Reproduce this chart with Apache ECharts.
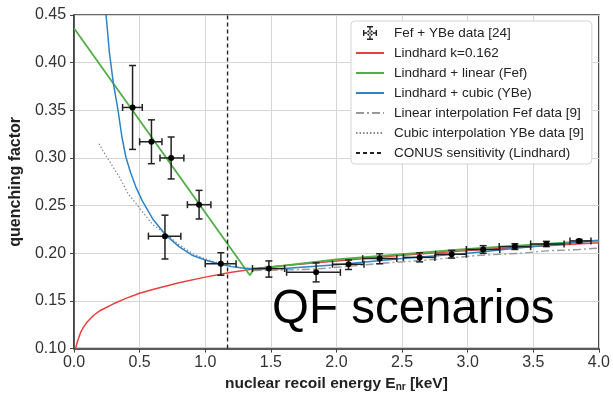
<!DOCTYPE html>
<html><head><meta charset="utf-8">
<script src="https://cdn.jsdelivr.net/npm/echarts@6/dist/echarts.min.js"></script>
<style>html,body{margin:0;padding:0;background:#fff}#c{width:613px;height:397px}</style>
</head><body><div id="c"></div>
<script>
// ---- data ----
const dataE    = [0.446,0.59,0.74,0.953,0.693,1.119,1.485,1.845,2.092,2.329,2.634,2.878,3.118,3.36,3.60,3.85];
const dataQF   = [0.353,0.317,0.300,0.251,0.218,0.189,0.184,0.180,0.1885,0.1944,0.1957,0.199,0.204,0.207,0.2098,0.213];
const dataELo  = [0.37,0.50,0.655,0.864,0.567,1.0,1.36,1.62,1.97,2.2,2.51,2.755,2.99,3.24,3.48,3.78];
const dataEHi  = [0.52,0.67,0.837,1.043,0.814,1.235,1.605,2.03,2.21,2.46,2.75,2.99,3.245,3.48,3.735,3.94];
const dataQFLo = [0.309,0.294,0.278,0.236,0.194,0.177,0.175,0.170,0.183,0.189,0.191,0.195,0.200,0.204,0.207,0.211];
const dataQFHi = [0.397,0.340,0.322,0.266,0.240,0.2006,0.192,0.190,0.193,0.1995,0.2005,0.203,0.208,0.210,0.2125,0.2145];

const lindE  = [0.006,0.012,0.02,0.03,0.05,0.07,0.1,0.15,0.2,0.3,0.4,0.5,0.6,0.8,1.0,1.2,1.5,2.0,2.5,3.0,3.5,4.0];
const lindQF = [0.096,0.100,0.1045,0.109,0.117,0.122,0.128,0.135,0.140,0.147,0.153,0.158,0.162,0.169,0.175,0.180,0.186,0.192,0.198,0.203,0.207,0.211];

const linE  = [0,1.34,1.37,1.5,2.0,2.5,3.0,3.5,4.0];
const linQF = [0.436,0.177,0.1835,0.1855,0.1935,0.199,0.2045,0.209,0.2135];

const cubE  = [0.244,0.27,0.3,0.333,0.365,0.395,0.43,0.47,0.52,0.6,0.7,0.8,0.9,1.0,1.1,1.2,1.3,1.4,1.6,2.0,2.5,3.0,3.5,4.0];
const cubQF = [0.45,0.41,0.378,0.352,0.322,0.301,0.285,0.270,0.255,0.236,0.219,0.207,0.198,0.193,0.189,0.186,0.1843,0.1835,0.184,0.188,0.1945,0.200,0.207,0.2135];

const linIntE  = [1.37,1.6,1.85,2.1,2.35,2.65,2.9,3.1,3.4,3.6,3.85,4.0];
const linIntQF = [0.182,0.1825,0.1835,0.1865,0.1895,0.1925,0.1955,0.198,0.200,0.2025,0.204,0.2055];

const cubIntE  = [0.19,0.22,0.3,0.35,0.41,0.47,0.53,0.6,0.7,0.8,0.9,1.0,1.1,1.2,1.3,1.35];
const cubIntQF = [0.315,0.3075,0.29,0.279,0.263,0.2525,0.242,0.230,0.2205,0.209,0.200,0.194,0.190,0.1865,0.1845,0.184];

const conusE = 1.17;
const xMin = 0, xMax = 4.0, xStep = 0.5;
const yMin = 0.10, yMax = 0.45, yStep = 0.05;

const names = ['Fef + YBe data [24]','Lindhard k=0.162','Lindhard + linear (Fef)','Lindhard + cubic (YBe)',
               'Linear interpolation Fef data [9]','Cubic interpolation YBe data [9]','CONUS sensitivity (Lindhard)'];

// ---- build ----
const zip = (a,b)=>a.map((v,i)=>[v,b[i]]);
const errData = dataE.map((v,i)=>[v,dataQF[i],dataELo[i],dataEHi[i],dataQFLo[i],dataQFHi[i]]);

function renderErr(params, api){
  const x=api.value(0), y=api.value(1), xl=api.value(2), xh=api.value(3), yl=api.value(4), yh=api.value(5);
  const c=api.coord([x,y]), pl=api.coord([xl,y]), ph=api.coord([xh,y]), pb=api.coord([x,yl]), pt=api.coord([x,yh]);
  const cap=3.5;
  const st={stroke:'#222',lineWidth:1.5,fill:null};
  return {type:'group',children:[
    {type:'line',shape:{x1:pl[0],y1:c[1],x2:ph[0],y2:c[1]},style:st},
    {type:'line',shape:{x1:pl[0],y1:c[1]-cap,x2:pl[0],y2:c[1]+cap},style:st},
    {type:'line',shape:{x1:ph[0],y1:c[1]-cap,x2:ph[0],y2:c[1]+cap},style:st},
    {type:'line',shape:{x1:c[0],y1:pb[1],x2:c[0],y2:pt[1]},style:st},
    {type:'line',shape:{x1:c[0]-cap,y1:pb[1],x2:c[0]+cap,y2:pb[1]},style:st},
    {type:'line',shape:{x1:c[0]-cap,y1:pt[1],x2:c[0]+cap,y2:pt[1]},style:st},
    {type:'circle',shape:{cx:c[0],cy:c[1],r:3},style:{fill:'#000'}}
  ]};
}

const errIcon = 'path://M6.3,0L7.7,0L7.7,14L6.3,14Z M4,0L10,0L10,1.4L4,1.4Z M4,12.6L10,12.6L10,14L4,14Z M0,6.3L14,6.3L14,7.7L0,7.7Z M0,4L1.4,4L1.4,10L0,10Z M12.6,4L14,4L14,10L12.6,10Z M4,7A3,3 0 1 0 10,7A3,3 0 1 0 4,7Z';

const font = 'Liberation Sans';
const chart = echarts.init(document.getElementById('c'), null, {renderer:'canvas'});
const lineSeries = (name, data, color, width, type, z) => ({
  name, type:'line', data, symbol:'none', smooth:false, clip:true, z:z||2,
  lineStyle:{color, width, type}, itemStyle:{color}, animation:false
});
const lineLegend = n => ({name:n, itemStyle:{opacity:0}});

chart.setOption({
  animation:false,
  backgroundColor:'#fff',
  textStyle:{fontFamily:font},
  grid:{left:71,right:13,top:15,bottom:42,show:true,borderColor:'#333',borderWidth:1.5,backgroundColor:'transparent'},
  xAxis:{type:'value',min:xMin,max:xMax,interval:xStep,
    name:'nuclear recoil energy E{sub|nr} [keV]',nameLocation:'middle',nameGap:24,
    nameTextStyle:{fontSize:15.5,fontWeight:'bold',color:'#222',fontFamily:font,
      rich:{sub:{fontSize:10,fontWeight:'bold',color:'#222',fontFamily:font,padding:[7,0,0,0]}}},
    axisLine:{show:true,lineStyle:{color:'#333',width:1.5}},
    axisTick:{show:true,length:4,lineStyle:{color:'#444'}},
    axisLabel:{fontSize:16,color:'#333',margin:6,formatter:v=>v.toFixed(1)},
    splitLine:{show:true,lineStyle:{color:'#d6d6d6',width:1}}},
  yAxis:{type:'value',min:yMin,max:yMax,interval:yStep,
    name:'quenching factor',nameLocation:'middle',nameGap:44,
    nameTextStyle:{fontSize:16,fontWeight:'bold',color:'#222',fontFamily:font},
    axisLine:{show:true,lineStyle:{color:'#333',width:1.5}},
    axisTick:{show:true,length:4,lineStyle:{color:'#444'}},
    axisLabel:{fontSize:16,color:'#333',margin:8,formatter:v=>v.toFixed(2)},
    splitLine:{show:true,lineStyle:{color:'#d6d6d6',width:1}}},
  legend:{orient:'vertical',left:351,top:21,itemWidth:28,itemHeight:14,itemGap:6,
    padding:[5,8,4,4],backgroundColor:'#fff',borderColor:'#d4d4d4',borderWidth:1,borderRadius:4,
    textStyle:{fontSize:13.5,fontFamily:font,color:'#222',padding:[0,0,0,5]},
    data:[{name:names[0],icon:errIcon},lineLegend(names[1]),lineLegend(names[2]),lineLegend(names[3]),
          lineLegend(names[4]),lineLegend(names[5]),lineLegend(names[6])]},
  graphic:[{type:'text',left:272,top:286,z:100,
    style:{text:'QF scenarios',fontSize:47.5,fontFamily:font,fill:'#000'}}],
  series:[
    lineSeries(names[1], zip(lindE,lindQF), '#e8403c', 1.5, 'solid', 3),
    lineSeries(names[2], zip(linE,linQF), '#4fae45', 1.8, 'solid', 3),
    lineSeries(names[3], zip(cubE,cubQF), '#2b84c8', 1.5, 'solid', 3),
    lineSeries(names[4], zip(linIntE,linIntQF), '#999999', 1.4, [8,3,2,3], 2),
    lineSeries(names[5], zip(cubIntE,cubIntQF), '#888888', 1.2, [1.5,2], 2),
    lineSeries(names[6], [[conusE,yMin],[conusE,yMax]], '#222222', 1.4, [4,3], 4),
    {name:names[0],type:'custom',renderItem:renderErr,data:errData,z:5,
      itemStyle:{color:'#222'},encode:{x:[0,2,3],y:[1,4,5]},animation:false}
  ]
});
</script>
</body></html>
